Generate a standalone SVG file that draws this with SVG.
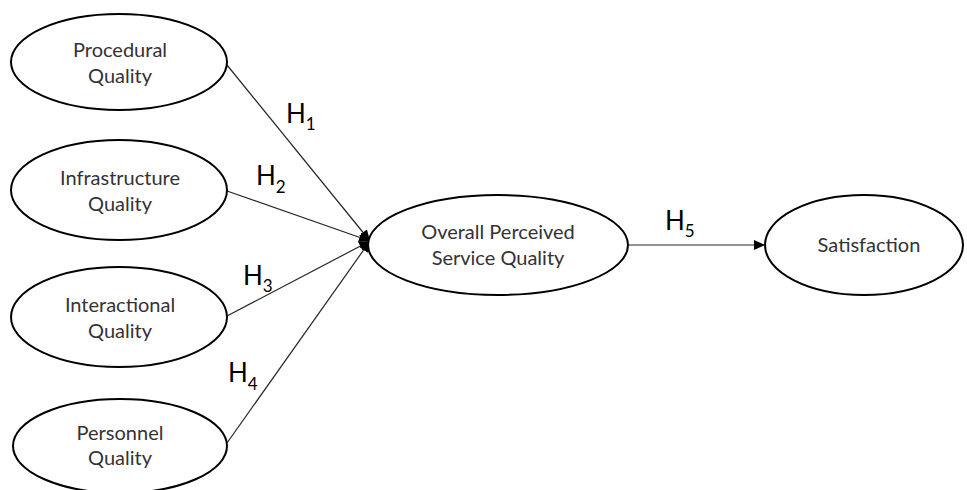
<svg xmlns="http://www.w3.org/2000/svg" width="967" height="490" viewBox="0 0 967 490">
  <style>
    .node ellipse { fill: #ffffff; stroke: #000000; stroke-width: 2; }
    .node text { font-family: Lato, "Liberation Sans", sans-serif; font-size: 20px; fill: #333333; text-anchor: middle; }
    .edge { stroke: #262626; stroke-width: 1.2; fill: none; marker-end: url(#arrow); }
    .hlabel { font-family: Lato, "Liberation Sans", sans-serif; font-size: 26px; fill: #000000; }
    .hlabel tspan { font-size: 17px; }
  </style>
  <defs>
    <marker id="arrow" markerUnits="userSpaceOnUse" markerWidth="11" markerHeight="10" refX="11" refY="5" orient="auto">
      <path d="M0,0 L11,5 L0,10 Z" fill="#000000"/>
    </marker>
  </defs>
  <rect width="967" height="490" fill="#ffffff"/>

  <g id="connectors">
    <line class="edge" x1="227" y1="65" x2="370" y2="241"/>
    <line class="edge" x1="227" y1="191" x2="370" y2="241"/>
    <line class="edge" x1="227" y1="316" x2="370" y2="241"/>
    <line class="edge" x1="227" y1="443" x2="370" y2="241"/>
    <line class="edge" x1="628" y1="245" x2="765" y2="245"/>
    <text class="hlabel" x="286" y="123">H<tspan dy="7">1</tspan></text>
    <text class="hlabel" x="256" y="185">H<tspan dy="8">2</tspan></text>
    <text class="hlabel" x="243" y="285">H<tspan dy="7">3</tspan></text>
    <text class="hlabel" x="228" y="382">H<tspan dy="8">4</tspan></text>
    <text class="hlabel" x="665" y="230">H<tspan dy="7">5</tspan></text>
  </g>

  <g id="procedural" class="node">
    <ellipse cx="119" cy="62" rx="108" ry="48"/>
    <text x="120" y="57">Procedural</text>
    <text x="120" y="83">Quality</text>
  </g>
  <g id="infrastructure" class="node">
    <ellipse cx="119" cy="190" rx="108" ry="50"/>
    <text x="120" y="185">Infrastructure</text>
    <text x="120" y="211">Quality</text>
  </g>
  <g id="interactional" class="node">
    <ellipse cx="119" cy="317" rx="108" ry="50"/>
    <text x="120" y="312">Interactional</text>
    <text x="120" y="338">Quality</text>
  </g>
  <g id="personnel" class="node">
    <ellipse cx="120" cy="446" rx="107" ry="47"/>
    <text x="120" y="440">Personnel</text>
    <text x="120" y="465">Quality</text>
  </g>
  <g id="overall" class="node">
    <ellipse cx="498" cy="245" rx="130" ry="50"/>
    <text x="498" y="239">Overall Perceived</text>
    <text x="498" y="265">Service Quality</text>
  </g>
  <g id="satisfaction" class="node">
    <ellipse cx="864" cy="245" rx="99" ry="50"/>
    <text x="869" y="252">Satisfaction</text>
  </g>
</svg>
